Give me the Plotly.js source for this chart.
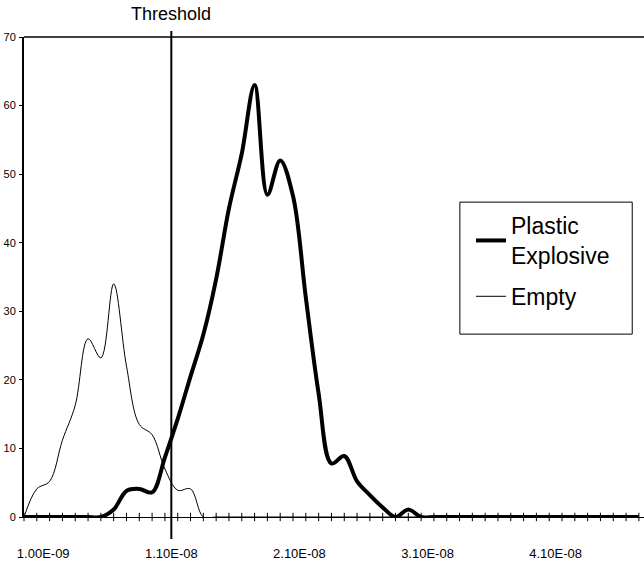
<!DOCTYPE html>
<html>
<head>
<meta charset="utf-8">
<script src="https://cdn.plot.ly/plotly-3.0.1.min.js"></script>
<style>html,body{margin:0;padding:0;background:#fff;}#chart{width:644px;height:566px;}</style>
</head>
<body>
<div id="chart"></div>
<script>
// bin positions (in units of 1e-9)
const xBinsNs = [-0.5,0.5,1.5,2.5,3.5,4.5,5.5,6.5,7.5,8.5,9.5,10.5,11.5,12.5,13.5,14.5,15.5,16.5,17.5,18.5,19.5,20.5,21.5,22.5,23.5,24.5,25.5,26.5,27.5,28.5,29.5,30.5,31.5,32.5,33.5,34.5,35.5,36.5,37.5,38.5,39.5,40.5,41.5,42.5,43.5,44.5,45.5,46.5,47.5];
const plasticExplosive = [0,0,0,0,0,0,0,1.1,3.8,4.1,3.6,8.7,14.3,20.5,26.6,34.7,45,53,63,47,52,46.8,32,18,7.8,8.9,5.2,3.2,1.4,0,1.1,0,0,0,0,0,0,0,0,0,0,0,0,0,0,0,0,0,0];
const empty = [0,4.1,5.2,11.2,16.3,26,23.2,34,22,13.5,12,7,3.9,4.1,0,0,0,0,0,0,0,0,0,0,0,0,0,0,0,0,0,0,0,0,0,0,0,0,0,0,0,0,0,0,0,0,0,0,0];
const seriesNames = ["Plastic<br>Explosive", "Empty"];
const tickVals = [1e-9, 1.1e-8, 2.1e-8, 3.1e-8, 4.1e-8];
const tickText = ["1.00E-09", "1.10E-08", "2.10E-08", "3.10E-08", "4.10E-08"];
const threshold = 1.1e-8;
const thresholdLabel = "Threshold";

const xVals = xBinsNs.map(v => v * 1e-9);
const FONT = "Liberation Sans, Arial, sans-serif";

const traces = [
  {x: xVals, y: plasticExplosive, name: seriesNames[0], legendgroup: "a", type: "scatter", mode: "lines",
   line: {color: "#000", width: 4, shape: "spline", smoothing: 1}},
  {x: xVals, y: empty, name: seriesNames[1], legendgroup: "b", type: "scatter", mode: "lines",
   line: {color: "#000", width: 1, shape: "spline", smoothing: 1}},
  {x: xVals, y: xVals.map(() => 0), type: "scatter", mode: "markers", showlegend: false,
   hoverinfo: "skip", cliponaxis: false,
   marker: {symbol: "line-ns-open", size: 6, color: "#000", line: {color: "#000", width: 1}}}
];

const layout = {
  width: 644, height: 566,
  margin: {l: 24, r: 0, t: 37, b: 49},
  paper_bgcolor: "#fff", plot_bgcolor: "#fff",
  font: {family: FONT, color: "#000"},
  showlegend: true,
  legend: {x: 0.721, y: 0.652, xanchor: "left", yanchor: "top",
           borderwidth: 0, bgcolor: "rgba(0,0,0,0)",
           font: {family: FONT, size: 23, color: "#000"}, tracegroupgap: 8},
  xaxis: {range: [-0.5e-9, 47.9e-9], showgrid: false, zeroline: false,
          showline: true, linecolor: "#000", linewidth: 1,
          ticks: "", tickmode: "array", tickvals: tickVals, ticktext: tickText,
          ticklabelstandoff: 24,
          tickfont: {family: FONT, size: 13, color: "#000"}},
  yaxis: {range: [0, 70], dtick: 10, showgrid: false, zeroline: false,
          showline: true, linecolor: "#000", linewidth: 2,
          ticks: "outside", ticklen: 3, tickwidth: 1, tickcolor: "#000",
          ticklabelstandoff: 1,
          tickfont: {family: FONT, size: 11, color: "#000"}},
  shapes: [
    {type: "line", xref: "paper", yref: "paper", x0: 0, x1: 1, y0: 1, y1: 1,
     line: {color: "#000", width: 1.3}},
    {type: "line", xref: "x", yref: "paper", x0: threshold, x1: threshold, y0: -0.0458, y1: 1.0125,
     line: {color: "#000", width: 2}},
    {type: "rect", xref: "paper", yref: "paper", x0: 0.703, x1: 0.981, y0: 0.381, y1: 0.656,
     fillcolor: "rgba(0,0,0,0)", line: {color: "#000", width: 1}}
  ],
  annotations: [
    {text: thresholdLabel, xref: "x", yref: "paper", x: threshold, y: 1.048,
     xanchor: "center", yanchor: "middle", showarrow: false,
     font: {family: FONT, size: 18, color: "#000"}}
  ]
};

Plotly.newPlot("chart", traces, layout, {displayModeBar: false, staticPlot: true});
</script>
</body>
</html>
